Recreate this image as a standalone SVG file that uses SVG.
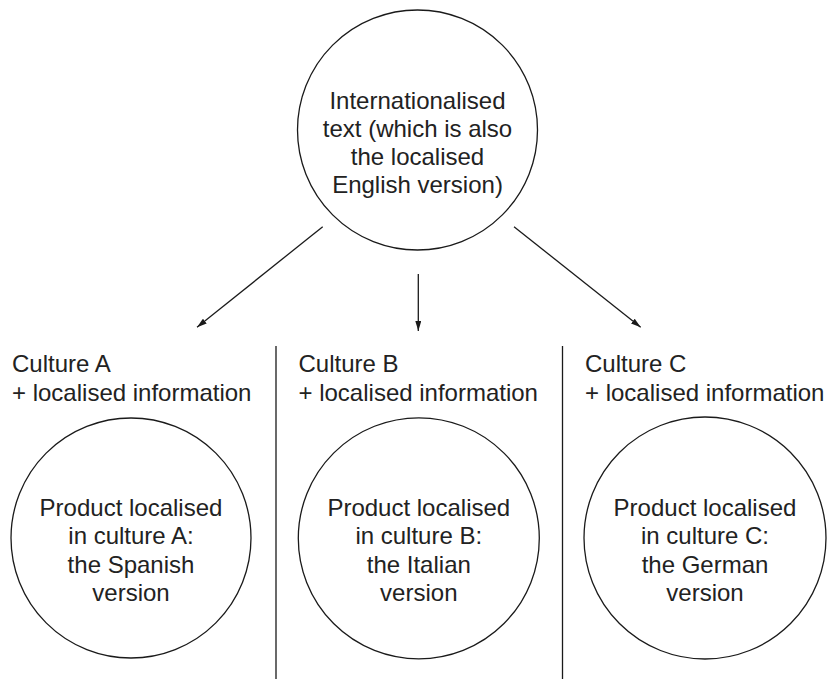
<svg xmlns="http://www.w3.org/2000/svg" width="838" height="679" viewBox="0 0 838 679">
  <style>
    .bubble { fill: #ffffff; stroke: #1a1a1a; stroke-width: 1.3; }
    .divider { stroke: #1a1a1a; stroke-width: 1.3; }
    .flow { stroke: #1a1a1a; stroke-width: 1.3; fill: none; marker-end: url(#head); }
    text { font-family: "Liberation Sans", Arial, sans-serif; font-size: 24px; fill: #222222; }
    .mid { text-anchor: middle; }
  </style>
  <defs>
    <marker id="head" viewBox="0 0 10 6" refX="10" refY="3" markerWidth="10" markerHeight="6" markerUnits="userSpaceOnUse" orient="auto">
      <path d="M0,0 L10,3 L0,6 Z" fill="#1a1a1a"/>
    </marker>
  </defs>

  <rect width="838" height="679" fill="#ffffff"/>

  <!-- column separators -->
  <g id="dividers">
    <line class="divider" x1="276" y1="346" x2="276" y2="679"/>
    <line class="divider" x1="562.5" y1="346" x2="562.5" y2="679"/>
  </g>

  <!-- source text -->
  <g id="internationalised">
    <circle class="bubble" cx="417.5" cy="130" r="120"/>
    <text class="mid" x="417.5" y="108.5">Internationalised</text>
    <text class="mid" x="417.5" y="136.8">text (which is also</text>
    <text class="mid" x="417.5" y="165.1">the localised</text>
    <text class="mid" x="417.5" y="193.4">English version)</text>
  </g>

  <!-- arrows to the three cultures -->
  <g id="connectors">
    <line class="flow" x1="322.7" y1="226.7" x2="197" y2="327.3"/>
    <line class="flow" x1="418.3" y1="274" x2="418.3" y2="331"/>
    <line class="flow" x1="514" y1="226.7" x2="640.7" y2="327.3"/>
  </g>

  <!-- culture A -->
  <g id="culture-a">
    <text x="12" y="372.3">Culture A</text>
    <text x="12" y="400.6">+ localised information</text>
  </g>
  <g id="product-a">
    <circle class="bubble" cx="131" cy="538" r="120"/>
    <text class="mid" x="131" y="516">Product localised</text>
    <text class="mid" x="131" y="544.3">in culture A:</text>
    <text class="mid" x="131" y="572.6">the Spanish</text>
    <text class="mid" x="131" y="600.9">version</text>
  </g>

  <!-- culture B -->
  <g id="culture-b">
    <text x="298.5" y="372.3">Culture B</text>
    <text x="298.5" y="400.6">+ localised information</text>
  </g>
  <g id="product-b">
    <circle class="bubble" cx="418.8" cy="538.3" r="120.5"/>
    <text class="mid" x="418.8" y="516">Product localised</text>
    <text class="mid" x="418.8" y="544.3">in culture B:</text>
    <text class="mid" x="418.8" y="572.6">the Italian</text>
    <text class="mid" x="418.8" y="600.9">version</text>
  </g>

  <!-- culture C -->
  <g id="culture-c">
    <text x="585" y="372.3">Culture C</text>
    <text x="585" y="400.6">+ localised information</text>
  </g>
  <g id="product-c">
    <circle class="bubble" cx="705" cy="538" r="121"/>
    <text class="mid" x="705" y="516">Product localised</text>
    <text class="mid" x="705" y="544.3">in culture C:</text>
    <text class="mid" x="705" y="572.6">the German</text>
    <text class="mid" x="705" y="600.9">version</text>
  </g>
</svg>
